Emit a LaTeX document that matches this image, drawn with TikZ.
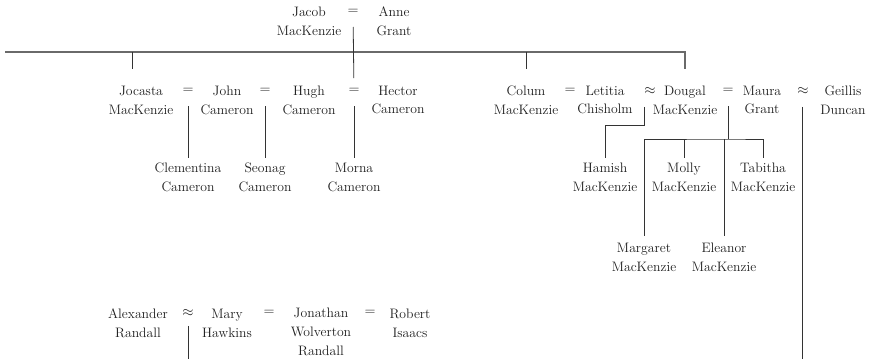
\documentclass[tikz,border=0pt]{standalone}
\usepackage{fontspec}
\usetikzlibrary{positioning}

\definecolor{ink}{HTML}{1E1E1E}
\definecolor{wire}{HTML}{333333}
\definecolor{railgray}{HTML}{6A6A6A}
\newcommand\namefont{\fontsize{13.7}{18.8}\selectfont}

\begin{document}
\begin{tikzpicture}[x=1pt,y=-1pt,line width=.8pt,
    person/.style={align=center,text=ink,font=\namefont,inner sep=0pt},
    tie/.style={text=ink,font=\namefont,inner sep=0pt},
    link/.style={draw=wire,shorten <=12pt,shorten >=5pt},
    rail/.style={draw=railgray,line width=1.3pt}]
\useasboundingbox (0,0) rectangle (877,359);

% Jacob and Anne
\node[person] (jacob)  at (309,21)    {Jacob\\MacKenzie};
\node[tie]    (t0)     at (353,12)    {$=$};
\node[person] (anne)   at (394,21)    {Anne\\Grant};

% second row
\node[person] (jocasta) at (141,100)  {Jocasta\\MacKenzie};
\node[tie]    (t1)      at (188,91)   {$=$};
\node[person] (john)    at (227,100)  {John\\Cameron};
\node[tie]    (t2)      at (265,91)   {$=$};
\node[person] (hugh)    at (309,100)  {Hugh\\Cameron};
\node[tie]    (t3)      at (354,91)   {$=$};
\node[person] (hector)  at (398,100)  {Hector\\Cameron};

\node[person] (colum)   at (526,100)  {Colum\\MacKenzie};
\node[tie]    (t4)      at (570,91)   {$=$};
\node[person] (letitia) at (605,100)  {Letitia\\Chisholm};
\node[tie]    (t5)      at (650,91)   {$\approx$};
\node[person] (dougal)  at (685,100)  {Dougal\\MacKenzie};
\node[tie]    (t6)      at (728,91)   {$=$};
\node[person] (maura)   at (762,100)  {Maura\\Grant};
\node[tie]    (t7)      at (803,91)   {$\approx$};
\node[person] (geillis) at (843,100)  {Geillis\\Duncan};

% third row
\node[person] (clementina) at (188,177.5) {Clementina\\Cameron};
\node[person] (seonag)     at (265,177.5) {Seonag\\Cameron};
\node[person] (morna)      at (354,177.5) {Morna\\Cameron};
\node[person] (hamish)     at (605,177.5) {Hamish\\MacKenzie};
\node[person] (molly)      at (684,177.5) {Molly\\MacKenzie};
\node[person] (tabitha)    at (763,177.5) {Tabitha\\MacKenzie};

\node[person] (margaret)   at (644,257.5) {Margaret\\MacKenzie};
\node[person] (eleanor)    at (724,257.5) {Eleanor\\MacKenzie};

% Randall row
\node[person] (alexander) at (138,323) {Alexander\\Randall};
\node[tie]    (t8)        at (188,313) {$\approx$};
\node[person] (mary)      at (227,323) {Mary\\Hawkins};
\node[tie]    (t9)        at (269,313) {$=$};
\node[person] (jonathan)  at (321,332) {Jonathan\\Wolverton\\Randall};
\node[tie]    (t10)       at (370,313) {$=$};
\node[person] (robert)    at (410,323) {Robert\\Isaacs};

\coordinate (rail)  at (5,52);
\coordinate (fork1) at (644,125);
\coordinate (fork2) at (728,139);
\coordinate (down1) at (802,359);
\coordinate (down2) at (188,359);

% connectors
\draw[rail,shorten >=16pt] (rail) -| (dougal);
\draw[link,shorten <=0pt,shorten >=16pt] ([xshift=-9pt]rail -| jocasta) -- ([xshift=-9pt]jocasta.north);
\draw[link,shorten <=0pt,shorten >=16pt] (rail -| colum) -- (colum);
\draw[link,shorten >=10pt] (t0) -- (t3);
\path[link]
    (t1) edge (clementina)
    (t2) edge (seonag)
    (t3) edge (morna);
\draw[link] (t5.south -| fork1) -- (fork1) -| (hamish);
\draw[link,shorten >=0pt] (t6) -- (fork2);
\draw[link,shorten <=7pt] (margaret) |- (fork2) -| (tabitha);
\draw[link,shorten <=0pt] (fork2 -| molly) -- (molly);
\draw[link,shorten <=0pt,shorten >=7pt] (fork2 -| eleanor) -- (eleanor);
\draw[link,shorten >=0pt] (t7.south -| down1) -- (down1);
\draw[link,shorten <=9pt,shorten >=0pt] (t8) -- (down2);
\end{tikzpicture}
\end{document}
